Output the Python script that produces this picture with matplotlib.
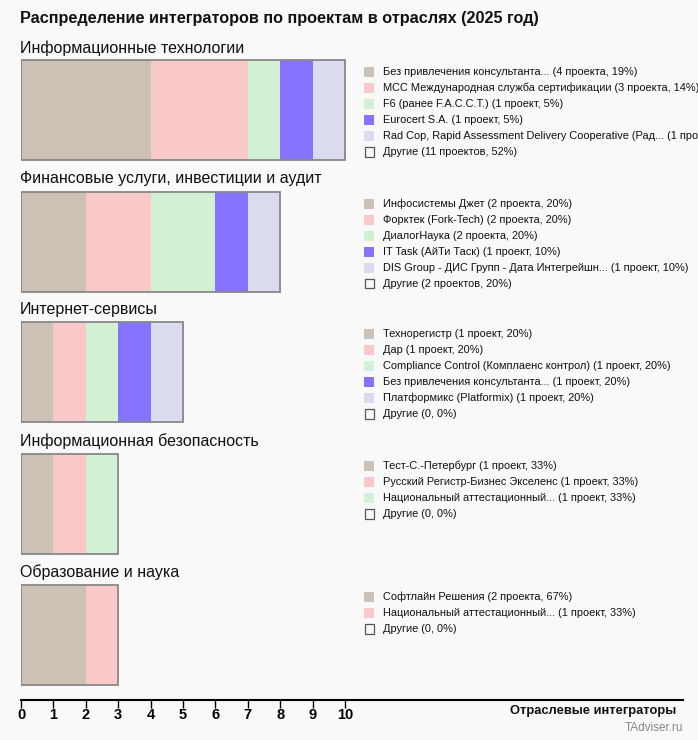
import matplotlib
matplotlib.use("Agg")
import matplotlib.pyplot as plt
from matplotlib import font_manager as fm
from matplotlib.patches import Rectangle

# ---- data ----
title = "Распределение интеграторов по проектам в отраслях (2025 год)"
x_label = "Отраслевые интеграторы"
watermark = "TAdviser.ru"
tick_values = [0, 1, 2, 3, 4, 5, 6, 7, 8, 9, 10]

industries = [
    "Информационные технологии",
    "Финансовые услуги, инвестиции и аудит",
    "Интернет-сервисы",
    "Информационная безопасность",
    "Образование и наука",
]

names_it = ["Без привлечения консультанта...", "MCC Международная служба сертификации",
            "F6 (ранее F.A.C.C.T.)", "Eurocert S.A.",
            "Rad Cop, Rapid Assessment Delivery Cooperative (Рад..."]
counts_it = [4, 3, 1, 1, 1]
pct_it = [19, 14, 5, 5, 5]
others_it = "Другие (11 проектов, 52%)"

names_fin = ["Инфосистемы Джет", "Форктек (Fork-Tech)", "ДиалогНаука",
             "IT Task (АйТи Таск)", "DIS Group - ДИС Групп - Дата Интегрейшн..."]
counts_fin = [2, 2, 2, 1, 1]
pct_fin = [20, 20, 20, 10, 10]
others_fin = "Другие (2 проектов, 20%)"

names_web = ["Технорегистр", "Дар", "Compliance Control (Комплаенс контрол)",
             "Без привлечения консультанта...", "Платформикс (Platformix)"]
counts_web = [1, 1, 1, 1, 1]
pct_web = [20, 20, 20, 20, 20]
others_web = "Другие (0, 0%)"

names_sec = ["Тест-С.-Петербург", "Русский Регистр-Бизнес Экселенс", "Национальный аттестационный..."]
counts_sec = [1, 1, 1]
pct_sec = [33, 33, 33]
others_sec = "Другие (0, 0%)"

names_edu = ["Софтлайн Решения", "Национальный аттестационный..."]
counts_edu = [2, 1]
pct_edu = [67, 33]
others_edu = "Другие (0, 0%)"

colors = ["#CCC1B4", "#F9C8C9", "#D2F0D3", "#8373FF", "#DADBEF"]

panels = [
    (names_it, counts_it, pct_it, others_it),
    (names_fin, counts_fin, pct_fin, others_fin),
    (names_web, counts_web, pct_web, others_web),
    (names_sec, counts_sec, pct_sec, others_sec),
    (names_edu, counts_edu, pct_edu, others_edu),
]

# ---- fonts ----
avail = {f.name for f in fm.fontManager.ttflist}
base = "Liberation Sans" if "Liberation Sans" in avail else "DejaVu Sans"
narrow = "Liberation Sans Narrow" if "Liberation Sans Narrow" in avail else base
plt.rcParams["font.family"] = [base, "DejaVu Sans"]

W, H = 698, 740
BG = "#F9F9F9"
fig = plt.figure(figsize=(W / 100, H / 100), dpi=100, facecolor=BG)

def fx(px):
    return px / W

def fy(py):
    return 1 - py / H

# main axes: x from px 21 to 683, y from px 0 to 700 (data y = pixel y)
x0, x1 = 21, 683
ytop, ybot = 0, 700
ax = fig.add_axes([fx(x0), fy(ybot), (x1 - x0) / W, (ybot - ytop) / H])
ax.set_facecolor("none")
unit_px = 32.4
ax.set_xlim(0, (x1 - x0) / unit_px)
ax.set_ylim(ybot, ytop)
for s in ["top", "right", "left"]:
    ax.spines[s].set_visible(False)
ax.spines["bottom"].set_linewidth(1.5)
ax.spines["bottom"].set_color("#000000")
ax.set_yticks([])
ax.set_xticks(tick_values)
ax.set_xticklabels([str(v) for v in tick_values], fontsize=10.5, fontweight="bold",
                   family=[narrow, base])
ax.tick_params(axis="x", length=6, width=1, pad=0, colors="#000000")

bar_tops = [60, 192, 322, 454, 585]
bar_h = 100
title_y = [48, 179, 310, 441, 572]

for i, (names, counts, pcts, others) in enumerate(panels):
    yc = bar_tops[i] + bar_h / 2
    left = 0
    for j, c in enumerate(counts):
        ax.barh(yc, c, left=left, height=bar_h, color=colors[j], edgecolor="none")
        left += c
    ax.add_patch(Rectangle((0, bar_tops[i]), left, bar_h, fill=False,
                           edgecolor="#888888", linewidth=1.3))
    fig.text(fx(20), fy(title_y[i]), industries[i], fontsize=11.5, ha="left",
             va="center", color="#111111")
    # legend
    ly = bar_tops[i] + 12
    for j, nm in enumerate(names):
        word = "проекта" if counts[j] in (2, 3, 4) else ("проект" if counts[j] == 1 else "проектов")
        label = f"{nm} ({counts[j]} {word}, {pcts[j]}%)"
        fig.patches.append(Rectangle((fx(364), fy(ly + 5)), 10 / W, 10 / H,
                                     transform=fig.transFigure, facecolor=colors[j],
                                     edgecolor="none"))
        fig.text(fx(383), fy(ly), label, fontsize=7.9, ha="left", va="center",
                 color="#111111")
        ly += 16
    fig.patches.append(Rectangle((fx(364.5), fy(ly + 4.5)), 9.5 / W, 9.5 / H,
                                 transform=fig.transFigure, facecolor="none",
                                 edgecolor="#555555", linewidth=0.9))
    fig.text(fx(383), fy(ly), others, fontsize=7.9, ha="left", va="center",
             color="#111111")

fig.text(fx(20), fy(18), title, fontsize=11.7, fontweight="bold", ha="left",
         va="center", color="#111111", family=[narrow, base])
fig.text(fx(676), fy(711), x_label, fontsize=9.3, fontweight="bold", ha="right",
         va="center", color="#111111", family=[narrow, base])
fig.text(fx(683), fy(728), watermark, fontsize=8.5, ha="right", va="center",
         color="#888888", family=[narrow, base])

fig.savefig("out.png", dpi=100, facecolor=BG)
